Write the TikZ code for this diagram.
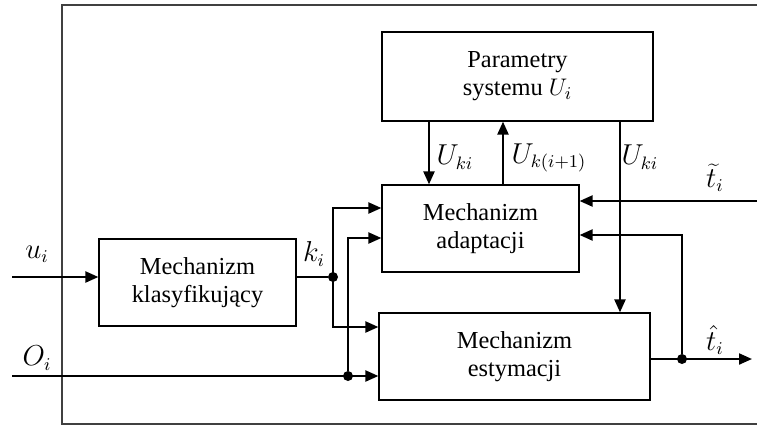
\documentclass[tikz,border=0pt]{standalone}
\usepackage{fontspec}
\setmainfont{Liberation Serif}
\usetikzlibrary{arrows.meta}
\begin{document}
\begin{tikzpicture}[x=0.5pt,y=-0.5pt,
  blk/.style={draw, line width=0.6pt, inner sep=0pt, align=center,
    font=\fontsize{12.2}{14}\selectfont},
  arr/.style={line width=1.1pt, -{Triangle[length=6.5pt,width=5.5pt]}},
  ln/.style={line width=1.1pt},
  thin/.style={line width=0.6pt},
  dot/.style={circle, fill, inner sep=0pt, minimum size=5pt},
  lab/.style={font=\fontsize{13.5}{15}\selectfont, inner sep=0pt}]
\useasboundingbox (0,0) rectangle (757,425);
% outer frame
\coordinate (f1) at (757,5);
\coordinate (f2) at (62,5);
\coordinate (f3) at (62,424);
\coordinate (f4) at (757,424);
\draw[line width=0.7pt, black!75] (f1) -- (f2) -- (f3) -- (f4);
% blocks
\node[blk, minimum width=98.5pt, minimum height=43.5pt] (klas) at (197.5,282.5) {Mechanizm\\klasyfikujący};
\node[blk, minimum width=135.5pt, minimum height=44.5pt] (par) at (517.5,76.5) {Parametry\\systemu $U_i$};
\node[blk, minimum width=98.5pt, minimum height=43.5pt] (adapt) at (480.5,228.5) {Mechanizm\\adaptacji};
\node[blk, minimum width=135.5pt, minimum height=43.5pt] (est) at (514.5,356.5) {Mechanizm\\estymacji};
% input u_i
\coordinate (uin) at (12,277);
\draw[arr] (uin) -- (klas.west |- uin);
\node[lab] (ul) at (37,254) {$u_i$};
% k_i
\node[dot] (dk) at (333,277) {};
\draw[thin] (klas.east |- dk) -- (dk);
\node[lab] (kl) at (314,254) {$k_i$};
\coordinate (k1) at (333,208);
\coordinate (k2) at (333,327);
\draw[arr] (k2) -- (k1) -- (adapt.west |- k1);
\draw[arr] (k1) -- (k2) -- (est.west |- k2);
% O_i
\coordinate (oin) at (12,376);
\node[dot] (dO) at (348,376) {};
\draw[arr] (oin) -- (est.west |- oin);
\node[lab] (Ol) at (37,358) {$O_i$};
\coordinate (o1) at (348,238);
\draw[arr] (dO) -- (o1) -- (adapt.west |- o1);
% Parametry <-> adaptacja
\coordinate (p1) at (429,121);
\draw[arr] (p1) -- (p1 |- adapt.north);
\node[lab] (U1) at (455,157) {$U_{ki}$};
\coordinate (p2) at (503,185);
\draw[arr] (p2) -- (p2 |- par.south);
\node[lab] (U2) at (549,158) {$U_{k(i+1)}$};
\coordinate (p3) at (620,121);
\draw[arr] (p3) -- (p3 |- est.north);
\node[lab] (U3) at (640,157) {$U_{ki}$};
% t tilde input
\coordinate (tin) at (757,201);
\draw[arr] (tin) -- (adapt.east |- tin);
\node[lab] (tt) at (715,178) {$\widetilde{t}_i$};
% output t hat
\coordinate (tout) at (752,359);
\node[dot] (dt) at (682,359) {};
\draw[arr] (est.east |- tout) -- (tout);
\node[lab] (th) at (715,340) {$\hat{t}_i$};
\coordinate (t1) at (682,235);
\draw[arr] (dt) -- (t1) -- (adapt.east |- t1);
\end{tikzpicture}
\end{document}
